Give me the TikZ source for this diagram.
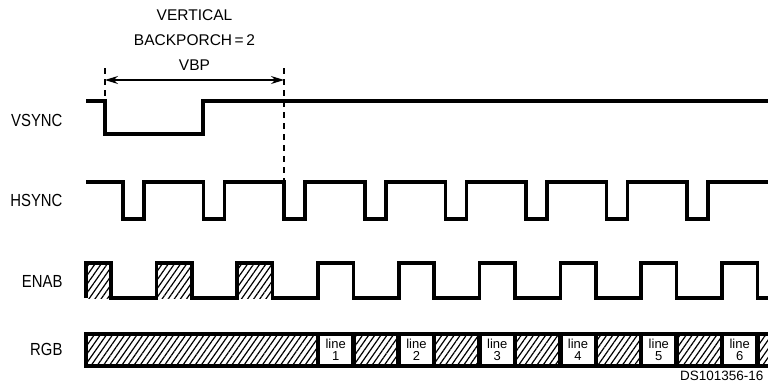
\documentclass[tikz,border=0pt]{standalone}
\usepackage{fontspec}
\setmainfont{Liberation Sans}
\newfontfamily\sigfont[FakeStretch=0.85]{Liberation Sans}
\usetikzlibrary{patterns.meta,arrows.meta}

\begin{document}
\begin{tikzpicture}
		[x=1pt,y=-1pt,
		 wave/.style={line width=3.6pt},
		 signame/.style={anchor=east,font=\sigfont\fontsize{17.5}{18}\selectfont},
		 hatch/.style={pattern={Lines[angle=55,distance=5pt,line width=1.2pt]}},
		 marker/.style={line width=1.2pt,dash pattern=on 6pt off 5pt},
		 slot/.style={draw,line width=4.5pt,fill=white,inner sep=0pt,
		   minimum width=35.5pt,minimum height=32pt,align=center,
		   font=\fontsize{13}{12}\selectfont}]
		\useasboundingbox (0,0) rectangle (768,391);
		\clip (0,0) rectangle (768,391);

		% signal names
		\node[signame] (vsync) at (66,120) {VSYNC};
		\node[signame] (hsync) at (66,200) {HSYNC};
		\node[signame] (enab) at (66,281) {ENAB};
		\node[signame] (rgb) at (66,349) {RGB};

		% vertical back porch
		\node[align=center,font=\fontsize{15.5}{25}\selectfont] (vbp) at (194.5,40)
			{VERTICAL\\BACKPORCH\,=\,2\\VBP};
		\coordinate (vbpL) at (105,68);
		\coordinate (vbpR) at (284,68);
		\draw[marker] (vbpL) -- (105,100);
		\draw[marker] (vbpR) -- (284,180);
		\draw[{Stealth[length=13pt,width=8pt]}-{Stealth[length=13pt,width=8pt]},line width=1.2pt]
			([yshift=-12pt]vbpL) -- ([yshift=-12pt]vbpR);

		% VSYNC
		\draw[wave] (86,101) -- (105,101) -- (105,134) -- (203,134) -- (203,101) -- (772,101);

		% HSYNC
		\draw[wave] (86,182) \foreach \k in {0,...,7} {
			-- ({123+80.6*\k},182) -- ({123+80.6*\k},219)
			-- ({144+80.6*\k},219) -- ({144+80.6*\k},182) } -- (772,182);

		% ENAB
		\fill[hatch] (86,263) rectangle (111,298);
		\foreach \k in {1,2}
			\fill[hatch] ({75.5+80.8*\k},263) rectangle ({111+80.8*\k},298);
		\draw[wave] (86,298) -- (86,263) -- (111,263) -- (111,298) \foreach \k in {1,...,8} {
			-- ({75.5+80.8*\k},298) -- ({75.5+80.8*\k},263)
			-- ({111+80.8*\k},263) -- ({111+80.8*\k},298) } -- (772,298);

		% RGB
		\draw[hatch,line width=4.5pt] (86,334) rectangle (780,366);
		\foreach \k [count=\n] in {3,...,8}
			\node[slot] (line\n) at ({93.25+80.8*\k},350) {line\\\n};

		\node[anchor=east,font=\fontsize{13.5}{14}\selectfont] (dsnum) at (767,376) {DS101356-16};

	\end{tikzpicture}
\end{document}
